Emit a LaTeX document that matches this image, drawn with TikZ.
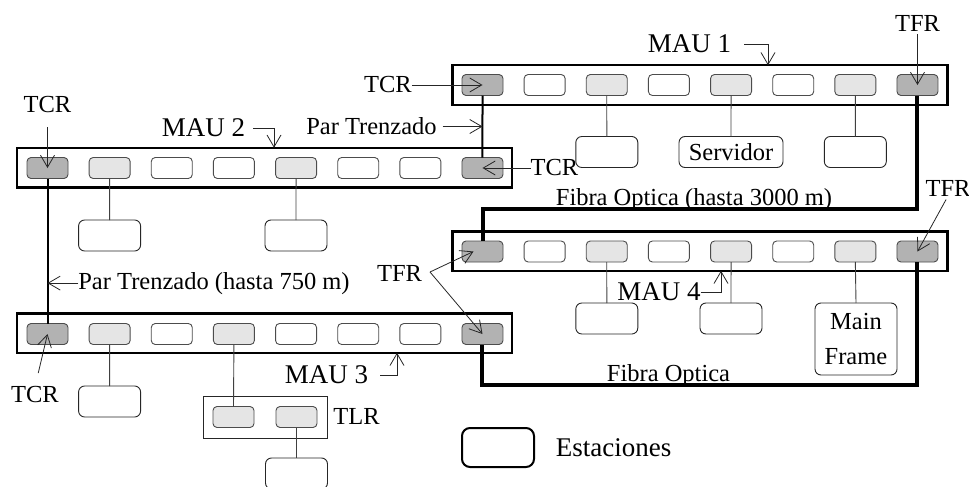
\documentclass[tikz,border=0pt]{standalone}
\usepackage{fontspec}
\setmainfont{Liberation Serif}
\usetikzlibrary{arrows.meta}
\begin{document}
\begin{tikzpicture}[x=1pt,y=-1pt,
  every node/.style={inner sep=0pt, outer sep=0pt, font=\fontsize{24.5}{29}\selectfont},
  big/.style={font=\fontsize{27}{31}\selectfont},
  maubox/.style={draw, line width=2.5pt, minimum width=495pt, minimum height=39.5pt},
  port/.style={draw=black!70, line width=0.9pt, rounded corners=4pt, minimum width=41pt, minimum height=21pt},
  pdark/.style={port, fill=black!30},
  plight/.style={port, fill=black!10},
  pwhite/.style={port, fill=white},
  station/.style={draw=black!85, line width=0.9pt, rounded corners=6pt, minimum width=62pt, minimum height=31pt, fill=white},
  link/.style={draw=black!75, line width=0.9pt},
  pair/.style={line width=2pt},
  fiber/.style={line width=4pt},
  lbl/.style={draw=black!85, line width=0.8pt, -{Straight Barb[length=12pt,width=14pt,line width=0.8pt]}},
]
\useasboundingbox (0,0) rectangle (969,487);

% MAU boxes
\node[maubox] (mau1) at (700,85) {};
\node[maubox] (mau2) at (264.5,167.5) {};
\node[maubox] (mau3) at (264.5,333) {};
\node[maubox] (mau4) at (700,251) {};

% ports
\foreach \i/\s in {1/pdark,2/pwhite,3/plight,4/pwhite,5/plight,6/pwhite,7/plight,8/pdark}
  \node[\s] (m1p\i) at ({482.5+(\i-1)*62.14},85) {};
\foreach \i/\s in {1/pdark,2/plight,3/pwhite,4/pwhite,5/plight,6/pwhite,7/pwhite,8/pdark}
  \node[\s] (m2p\i) at ({47.5+(\i-1)*62.14},168) {};
\foreach \i/\s in {1/pdark,2/plight,3/pwhite,4/plight,5/pwhite,6/pwhite,7/pwhite,8/pdark}
  \node[\s] (m3p\i) at ({47.5+(\i-1)*62.14},334) {};
\foreach \i/\s in {1/pdark,2/pwhite,3/plight,4/pwhite,5/plight,6/pwhite,7/plight,8/pdark}
  \node[\s] (m4p\i) at ({482.5+(\i-1)*62.14},251.5) {};

% stations MAU 1
\node[station] (s11) at (606.8,152) {};
\node[station, minimum width=104pt] (s12) at (731,152) {Servidor};
\node[station] (s13) at (855.3,152) {};
\draw[link] (m1p3.south) -- (s11.north);
\draw[link] (m1p5.south) -- (s12.north);
\draw[link] (m1p7.south) -- (s13.north);

% stations MAU 2
\node[station] (s21) at (109.6,235.5) {};
\node[station] (s22) at (296,235.5) {};
\draw[link] (m2p2.south) -- (s21.north);
\draw[link] (m2p5.south) -- (s22.north);

% stations MAU 3 + TLR
\node[station] (s31) at (109.6,401.5) {};
\draw[link] (m3p2.south) -- (s31.north);
\node[draw=black!85, line width=0.9pt, minimum width=124pt, minimum height=42pt] (tlrbox) at (265,417) {};
\node[plight] (tl1) at (233.5,417) {};
\node[plight] (tl2) at (296.5,417) {};
\node[station] (s32) at (296.5,473.5) {};
\draw[link] (m3p4.south) -- (tl1.north);
\draw[link] (tl2.south) -- (s32.north);
\node (tlr) at (356.5,416.5) {TLR};

% stations MAU 4
\node[station] (s41) at (606.8,318.5) {};
\node[station] (s42) at (731,318.5) {};
\node[station, minimum width=82pt, minimum height=72pt, align=center, font=\fontsize{24.5}{35}\selectfont] (s43) at (856,339) {Main\\Frame};
\draw[link] (m4p3.south) -- (s41.north);
\draw[link] (m4p5.south) -- (s42.north);
\draw[link] (m4p7.south) -- (s43.north);

% twisted pair
\draw[pair] (m1p1.south) -- (m2p8.north);
\draw[pair] (m2p1.south) -- (m3p1.north);

% fiber
\node[anchor=base] (fo1) at (694,205.5) {Fibra Optica (hasta 3000 m)};
\node[anchor=base] (fo2) at (668.5,381) {Fibra Optica};
\draw[fiber] (m1p8.south) -- ++(0,113) -| (m4p1.north);
\draw[fiber] (m4p8.south) -- ++(0,122.5) -| (m3p8.south);

% MAU labels with hooks
\node[big] (l1) at (689.5,44) {MAU 1};
\coordinate (h1) at (768,44);
\draw[lbl] ([xshift=13pt]l1.east) -- (h1) -- (h1 |- mau1.north);
\node[big] (l2) at (203.5,128) {MAU 2};
\coordinate (h2) at (274,128);
\draw[lbl] ([xshift=8pt]l2.east) -- (h2) -- (h2 |- mau2.north);
\node[big] (l3) at (326.5,375) {MAU 3};
\coordinate (h3) at (397,375);
\draw[lbl] ([xshift=12pt]l3.east) -- (h3) -- (h3 |- mau3.south);
\node[big] (l4) at (659,292) {MAU 4};
\coordinate (h4) at (721,292);
\draw[lbl] (l4.east) -- (h4) -- (h4 |- mau4.south);

% TCR labels
\node (tcr1) at (388,85) {TCR};
\draw[lbl] (tcr1.east) -- (m1p1.center);
\node (tcr2) at (554.5,168) {TCR};
\draw[lbl] (tcr2.west) -- (m2p8.center);
\node (tcr3) at (47.5,105) {TCR};
\draw[lbl, shorten <=14pt] (tcr3.south) -- (m2p1.center);
\node (tcr4) at (35,395) {TCR};
\draw[lbl, shorten <=14pt] (tcr4.north) -- (m3p1.center);

% TFR labels
\node (tfr1) at (917.5,23) {TFR};
\draw[lbl, shorten <=3pt] (tfr1.south) -- (m1p8.center);
\node (tfr2) at (948,188) {TFR};
\draw[lbl, shorten <=4pt] (tfr2.south) -- (m4p8.center);
\node (tfr3) at (399.5,273.5) {TFR};
\coordinate (tsplit) at (430,272);
\draw[lbl] (tsplit) -- ([xshift=-9pt]m4p1.center);
\draw[lbl] (tsplit) -- (m3p8.center);

% Par trenzado labels
\node (pt1) at (371.5,126.5) {Par Trenzado};
\draw[lbl] ([xshift=6pt]pt1.east) -- (pt1.east -| m1p1.center);
\node[anchor=base] (pt2) at (214,289) {Par Trenzado (hasta 750 m)};
\draw[lbl] (pt2.west) -- (pt2.west -| m2p1.center);

% legend
\node[draw, line width=2pt, rounded corners=8pt, minimum width=72pt, minimum height=39pt] (leg) at (498,447.5) {};
\node[big] (legt) at (613.5,448) {Estaciones};
\end{tikzpicture}
\end{document}
